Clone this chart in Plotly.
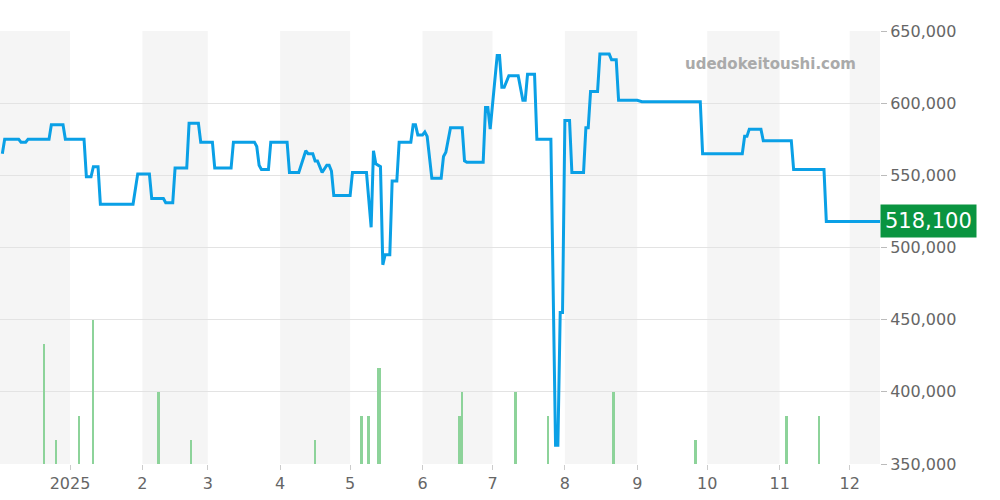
import plotly.graph_objects as go
import pandas as pd

start = pd.Timestamp("2024-12-02")
price_days = [1,2,8,9,11,12,21,22,27,28,36,37,39,40,42,43,57,59,64,65,70,71,74,75,80,81,85,86,91,92,99,100,109,110,111,112,115,116,123,124,128,130,131,132,134,135,136,137,138,140,141,142,143,150,151,157,159,160,161,163,164,165,167,168,170,171,176,177,178,179,181,182,183,185,189,190,191,193,198,199,200,207,208,209,210,213,214,215,216,218,222,224,225,226,229,230,236,238,239,240,241,242,244,245,250,251,252,253,256,257,261,262,264,265,273,275,300,301,318,319,320,321,326,327,339,340,353,354,377]
price_vals = [565,575,575,573,573,575,575,585,585,575,575,549,549,556,556,530,530,551,551,534,534,531,531,555,555,586,586,573,573,555,555,573,573,570,557,554,554,573,573,552,552,563,567,565,565,560,560,556,552,557,557,553,536,536,552,552,514,567,558,556,488,495,495,546,546,573,573,585,585,578,578,580,577,548,548,563,566,583,583,560,559,559,597,597,582,633,633,611,611,619,619,602,602,620,620,575,575,363,363,455,455,588,588,552,552,583,583,608,608,634,634,630,630,602,602,601,601,565,565,577,577,582,582,574,574,554,554,518.1,518.1]
vol_days = [19,24,34,40,68,82,135,155,158,162,163,197,198,221,235,263,298,337,351]
vol_vals = [5,1,2,6,3,1,1,2,2,4,4,2,3,3,2,3,1,2,2]
shaded_months = [("2024-12-02","2025-01-01"),("2025-02-01","2025-03-01"),("2025-04-01","2025-05-01"),
                 ("2025-06-01","2025-07-01"),("2025-08-01","2025-09-01"),("2025-10-01","2025-11-01"),
                 ("2025-12-01","2025-12-15")]
tick_dates = ["2025-01-01","2025-02-01","2025-03-01","2025-04-01","2025-05-01","2025-06-01","2025-07-01",
              "2025-08-01","2025-09-01","2025-10-01","2025-11-01","2025-12-01"]
tick_text = ["2025","2","3","4","5","6","7","8","9","10","11","12"]
last_price = 518100

px = [start + pd.Timedelta(days=d) for d in price_days]
py = [v*1000 for v in price_vals]
vx = [start + pd.Timedelta(days=d) for d in vol_days]

fig = go.Figure()
fig.add_trace(go.Bar(x=vx, y=vol_vals, yaxis="y2", marker=dict(color="#8dd39a", line_width=0),
                     width=86400000*0.8, hoverinfo="skip"))
fig.add_trace(go.Scatter(x=px, y=py, mode="lines", line=dict(color="#0aa0e6", width=3)))

shapes = [dict(type="rect", xref="x", yref="paper", x0=a, x1=b, y0=0, y1=1, fillcolor="#f5f5f5",
               line_width=0, layer="below") for a, b in shaded_months]
fig.update_layout(
    width=1000, height=500, showlegend=False, plot_bgcolor="rgba(0,0,0,0)", paper_bgcolor="white",
    margin=dict(l=0, r=120, t=31, b=36, autoexpand=False), shapes=shapes, bargap=0,
    font=dict(family="DejaVu Sans", color="#666", size=16),
    xaxis=dict(range=[start, start + pd.Timedelta(days=377)], tickvals=tick_dates, ticktext=tick_text,
               showgrid=False, ticks="outside", ticklen=5, tickcolor="#ccc", showline=False, zeroline=False),
    yaxis=dict(side="right", range=[350000, 650000], tickvals=[350000,400000,450000,500000,550000,600000,650000],
               tickformat=",", gridcolor="#e3e3e3", ticks="outside", ticklen=6, tickcolor="#bbb",
               zeroline=False, showline=False),
    yaxis2=dict(overlaying="y", range=[0, 18], visible=False),
)
fig.add_annotation(x=1, xref="paper", y=last_price, yref="y", text="518,100", showarrow=False,
                   xanchor="left", xshift=0, bgcolor="#0a9440", font=dict(color="white", size=21),
                   borderpad=4)
fig.add_annotation(x=0.975, xref="paper", y=0.95, yref="paper", text="<b>udedokeitoushi.com</b>",
                   showarrow=False, xanchor="right", font=dict(color="#aaa", size=15))
fig.write_html("out.html", config={"displayModeBar": False},
               post_script="document.body.style.margin='0';")
